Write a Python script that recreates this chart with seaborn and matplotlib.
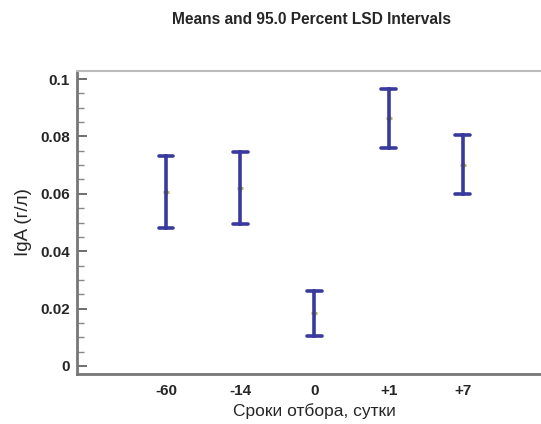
import matplotlib
matplotlib.use("Agg")
import matplotlib.pyplot as plt
import seaborn as sns
import pandas as pd
from matplotlib.ticker import MultipleLocator

categories = ["-60", "-14", "0", "+1", "+7"]
means = [0.0605, 0.0621, 0.0185, 0.0863, 0.0701]
lower = [0.0480, 0.0494, 0.0105, 0.0760, 0.0599]
upper = [0.0732, 0.0746, 0.0262, 0.0966, 0.0804]

rows = []
for c, lo, m, hi in zip(categories, lower, means, upper):
    for v in (lo, m, hi):
        rows.append({"period": c, "value": v})
df = pd.DataFrame(rows)

sns.set_style("white")
plt.rcParams["font.family"] = ["Liberation Sans", "DejaVu Sans"]

fig = plt.figure(figsize=(5.41, 4.24), dpi=100)
ax = fig.add_axes([77 / 541, 50 / 424, 1.02 - 77 / 541, (374 - 71) / 424])

sns.pointplot(data=df, x="period", y="value", order=categories,
              estimator="median", errorbar=("pi", 100),
              color="#b4b43c", markers="+", linestyles="none",
              markersize=5, capsize=0.2,
              err_kws={"color": "#3a3a9e", "linewidth": 2.6},
              ax=ax)

ax.set_xlim(-1.2, 5.2)
ax.set_ylim(-0.0028, 0.1028)
ax.yaxis.set_minor_locator(MultipleLocator(0.005))
ax.set_yticks([0, 0.02, 0.04, 0.06, 0.08, 0.1])
ax.set_yticklabels(["0", "0.02", "0.04", "0.06", "0.08", "0.1"])
ax.tick_params(axis="y", which="major", direction="in", length=7, width=1.2,
               color="#555555", labelsize=11, pad=5, left=True)
ax.tick_params(axis="y", which="minor", direction="in", length=5, width=1,
               color="#888888", left=True)
ax.tick_params(axis="x", length=0, labelsize=11, pad=7)
for lab in ax.get_xticklabels() + ax.get_yticklabels():
    lab.set_fontweight("bold")

for s in ["left", "bottom"]:
    ax.spines[s].set_color("#777777")
    ax.spines[s].set_linewidth(2)
ax.spines["top"].set_color("#bbbbbb")
ax.spines["top"].set_linewidth(1.5)
ax.spines["right"].set_visible(False)

ax.set_xlabel("Сроки отбора, сутки", fontsize=12.5, labelpad=4)
ax.set_ylabel("IgA (г/л)", fontsize=13.5, labelpad=6)

fig.text(311 / 541, 1 - 20 / 424, "Means and 95.0 Percent LSD Intervals",
         ha="center", va="center", fontsize=11.2, fontweight="bold")

fig.savefig("out.png", dpi=100)
